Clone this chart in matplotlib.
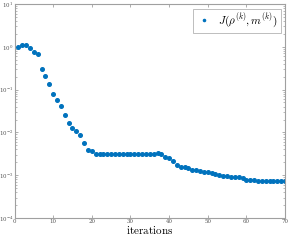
import matplotlib
matplotlib.use("Agg")
import matplotlib.pyplot as plt
from matplotlib.ticker import LogLocator, NullFormatter

plt.rcParams["mathtext.fontset"] = "cm"
plt.rcParams["font.family"] = "serif"
plt.rcParams["font.serif"] = ["DejaVu Serif"]

iterations = list(range(1, 71))
cost = [
    1.0, 1.1, 1.1, 0.95, 0.76, 0.69, 0.30, 0.21, 0.137, 0.077,
    0.057, 0.041, 0.026, 0.0165, 0.0128, 0.0107, 0.0087, 0.0058, 0.0039, 0.0036,
    0.0032, 0.0031, 0.0032, 0.0032, 0.0032, 0.0032, 0.0032, 0.0032, 0.0032, 0.0032,
    0.0032, 0.0032, 0.0032, 0.0032, 0.0032, 0.0032, 0.0033, 0.0031, 0.0027, 0.0025,
    0.0021, 0.0017, 0.00155, 0.00153, 0.0015, 0.00132, 0.0013, 0.00128, 0.0012, 0.00116,
    0.00112, 0.00106, 0.00099, 0.00097, 0.00095, 0.00091, 0.00090, 0.00090, 0.00085, 0.00078,
    0.00076, 0.00075, 0.00072, 0.00072, 0.00072, 0.00072, 0.00072, 0.00072, 0.00072, 0.00072,
]
x_ticks = [0, 10, 20, 30, 40, 50, 60, 70]

fig = plt.figure(figsize=(2.9, 2.4), dpi=100)
ax = fig.add_axes([0.05, 0.092, 0.933, 0.891])

ax.semilogy(iterations, cost, linestyle="none", marker="o", markersize=2.6,
            color="#0072BD", label=r"$J(\rho^{(k)}, m^{(k)})$")

ax.set_xlim(0, 70)
ax.set_ylim(1e-4, 1e1)
ax.set_xticks(x_ticks)
ax.set_xticklabels([str(t) for t in x_ticks])
ax.yaxis.set_major_locator(LogLocator(base=10, numticks=10))
ax.yaxis.set_minor_locator(LogLocator(base=10, subs=range(2, 10), numticks=20))
ax.yaxis.set_minor_formatter(NullFormatter())

gray = "#a0a0a0"
for s in ax.spines.values():
    s.set_color(gray)
    s.set_linewidth(0.8)
ax.tick_params(which="both", direction="in", top=True, right=True,
               colors=gray, labelcolor="#555555", labelsize=4, pad=1)
ax.tick_params(which="major", length=2.5, width=0.6)
ax.tick_params(which="minor", length=1.5, width=0.5)

ax.set_xlabel(r"$\mathrm{iterations}$", fontsize=8, labelpad=0)
leg = ax.legend(loc="upper right", fontsize=8, frameon=True, fancybox=False,
                handletextpad=0.5, handlelength=1.4, borderpad=0.3,
                borderaxespad=0.4, markerscale=0.6)
leg.get_frame().set_edgecolor(gray)
leg.get_frame().set_linewidth(0.6)

fig.savefig("out.png", dpi=100)
